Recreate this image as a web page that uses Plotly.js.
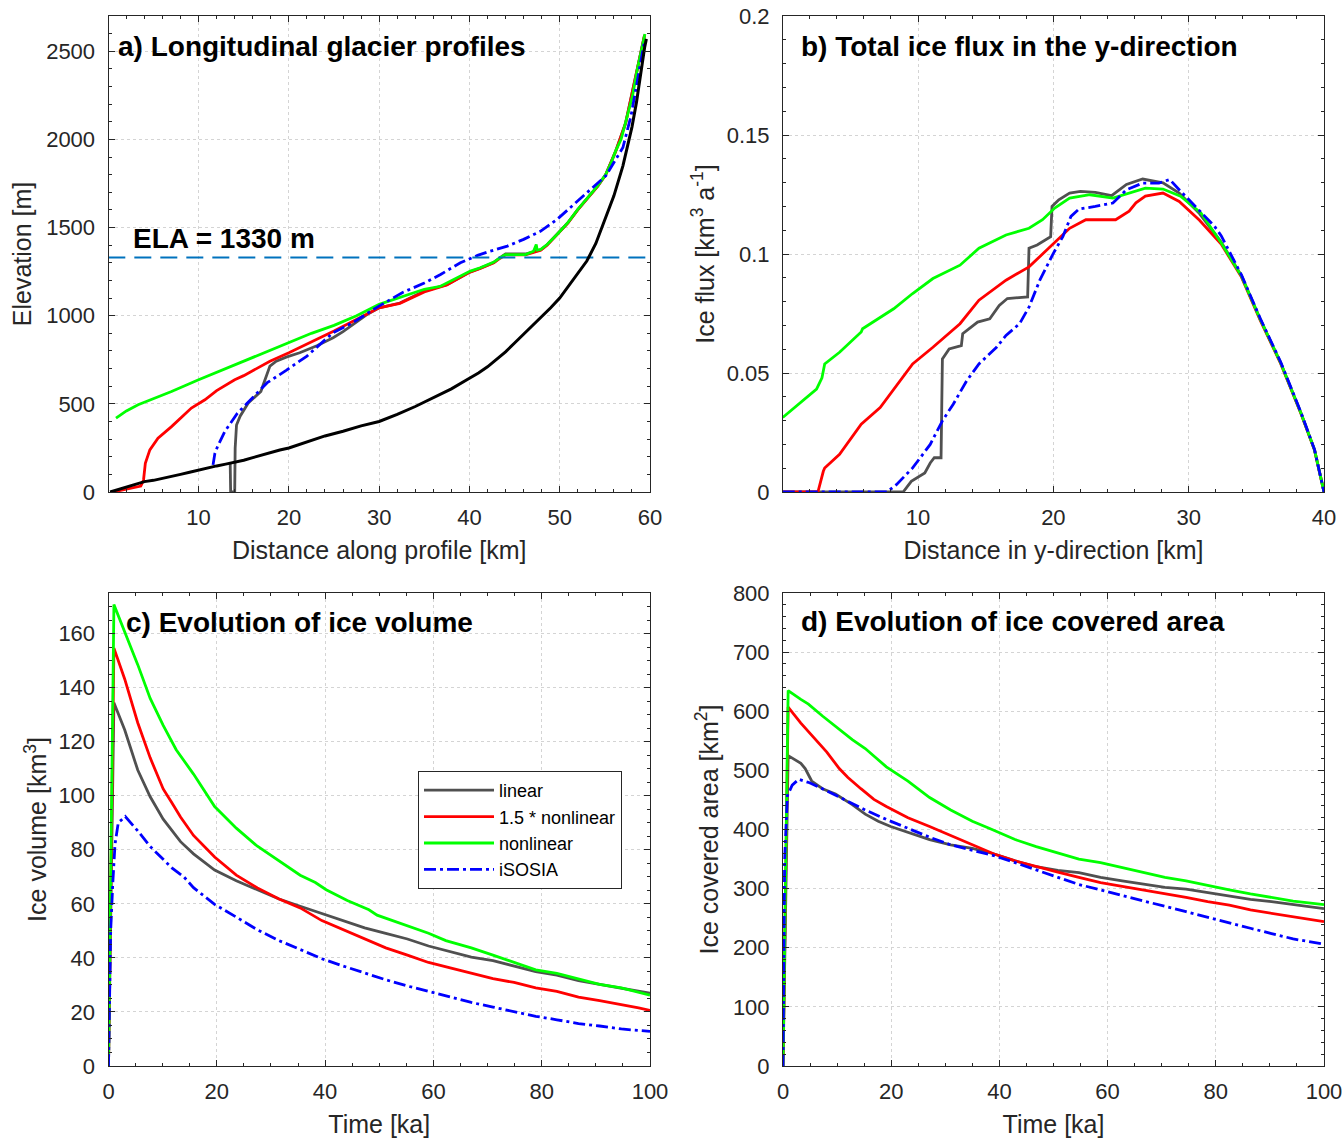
<!DOCTYPE html>
<html><head><meta charset="utf-8">
<script src="https://cdn.plot.ly/plotly-3.0.1.min.js"></script>
<style>html,body{margin:0;padding:0;background:#fff}#chart{width:1344px;height:1138px}</style>
</head><body><div id="chart"></div>
<script>
// ---------- Panel a: longitudinal profiles (km, m) ----------
const aBedX = [0.2,1,2,3,4,5,6,7,8,9,10,11,12,13,14,15,16,17,18,19,20,22,24,26,28,30,32,34,35,36,38,40,41,42,43,44,45,46,47,48,49,50,51,52,53,54,55,56,57,58,58.5,59,59.4,59.6];
const aBedY = [0,12,30,45,59,66,76,87,100,112,125,135,148,158,168,180,195,210,226,238,250,285,318,345,375,400,440,485,510,535,585,645,675,710,750,795,845,895,945,990,1045,1100,1170,1245,1310,1410,1540,1680,1850,2070,2210,2390,2520,2570];
const aLinX = [13.5,13.55,14.0,14.05,14.2,14.6,15.5,16.4,16.9,17.1,17.5,17.9,18.6,19.7,21.2,23.1,24.9,26,28.6,30,32.3,35,37.5,40,41.2,42.7,43.4,44,46.2,47.1,47.9,48.6,49.7,50.9,52,53.1,54.2,55.1,56.2,57.3,58.6,59.4];
const aLinY = [165,0,0,250,380,430,505,545,570,600,657,714,742,765,790,830,875,910,1005,1045,1072,1140,1176,1247,1270,1302,1330,1350,1350,1362,1374,1402,1460,1527,1602,1669,1735,1801,1934,2094,2398,2594];
const aNl15X = [0.7,1.8,3.6,3.9,4.1,4.6,5.5,7,9.2,10.7,12,14,15,17.9,20,23.1,25,28.6,30,32.3,35,37.5,40,41.2,42.7,43.4,44,46.2,47.1,47.9,48.6,49.7,50.9,52,53.1,54.2,55.1,56.2,57.3,58.6,59.4];
const aNl15Y = [2,15,34,68,163,239,305,371,476,523,575,637,660,742,790,866,913,1008,1045,1070,1135,1175,1246,1268,1300,1326,1345,1345,1360,1372,1400,1458,1525,1600,1668,1733,1800,1932,2092,2395,2590];
const aNlX = [0.85,2,3.3,5,7,10,12.5,15,17.5,20,22.5,25,27.5,30,32.5,35,36.8,38.3,40.1,41.2,42.7,43.4,44,46.2,47.1,47.4,47.5,47.9,48.6,49.7,50.9,52,53.1,54.2,55.1,55.7,56.2,56.8,57.3,58.07,58.6,59.44];
const aNlY = [419,460,495,530,570,637,690,742,795,847,900,945,1000,1064,1106,1150,1167,1205,1253,1272,1304,1329,1347,1347,1366,1404,1372,1376,1404,1461,1528,1603,1670,1736,1802,1869,1935,2001,2096,2248,2399,2598];
const aIsoX = [11.6,11.8,12.1,12.9,14.3,15.8,17.6,19.7,22,24.9,27.1,29.7,32.6,35,36.8,39,40.9,42.3,44.2,46,47.9,49.7,51.6,53.4,55.1,56,57,57.9,58.6,59.4];
const aIsoY = [154,218,258,343,447,525,620,690,771,904,961,1046,1132,1185,1234,1300,1342,1366,1395,1433,1480,1546,1632,1717,1793,1869,1954,2134,2324,2560];
const elaValue = [1330];
const elaRangeX = [0, 60];

// ---------- Panel b: ice flux in y-direction (km, km3/a) ----------
const bLinX = [0,8.9,9.5,10.5,10.9,11.2,11.7,11.8,12.3,13.2,13.3,14.4,15.3,16.0,16.6,18.1,18.2,18.8,19.8,19.9,20.4,21.2,22.0,23.1,24.3,25.4,26.6,28.1,29.3,30.8,32.4,33.9,35.3,36.8,38.3,39.3,40];
const bLinY = [0,0,0.0045,0.008,0.0122,0.0144,0.0144,0.0559,0.0601,0.0615,0.0665,0.0714,0.0728,0.0784,0.0813,0.082,0.1024,0.1038,0.1073,0.12,0.1228,0.1256,0.1263,0.1259,0.1245,0.1292,0.1315,0.1299,0.1256,0.117,0.105,0.0909,0.0725,0.0543,0.0332,0.0177,0];
const bNl15X = [0,2.6,3.0,3.1,4.2,5.8,7.2,9.6,11.1,13.1,14.5,16.5,18.2,19.5,20.7,21.2,22.4,24.6,25.6,26.1,26.8,28.1,29.3,30.8,32.4,33.9,35.3,36.8,38.3,39.3,40];
const bNl15Y = [0,0,0.0087,0.0101,0.0158,0.0285,0.0355,0.0538,0.0608,0.0707,0.0806,0.089,0.0946,0.1017,0.108,0.1108,0.1144,0.1144,0.118,0.1215,0.1243,0.1256,0.1221,0.1142,0.1042,0.0903,0.072,0.0539,0.0329,0.0176,0];
const bNlX = [0,2.5,2.9,3.1,4.2,5.8,5.9,8.2,9.6,11.1,13.1,14.5,16.5,18.2,19.2,20.1,21.2,22.7,24.4,25.6,26.8,28.1,29.4,30.9,32.4,33.9,35.3,36.8,38.3,39.3,40];
const bNlY = [0.0313,0.0432,0.048,0.0538,0.0587,0.0672,0.0686,0.077,0.0834,0.0897,0.0953,0.1024,0.108,0.1108,0.1144,0.1193,0.1235,0.1249,0.1235,0.1256,0.1277,0.1273,0.1243,0.1173,0.1047,0.0907,0.0724,0.0542,0.0331,0.0177,0];
const bIsoX = [0,7.7,8.4,9.6,10.9,11.8,12.6,13.6,14.5,15.8,16.5,17.5,18.2,19.0,20.0,20.7,21.3,21.9,23.1,24.4,25.4,26.6,27.8,28.6,29.3,30.6,31.9,32.4,33.9,35.3,36.8,38.3,39.3,40];
const bIsoY = [0,0,0.0031,0.0101,0.02,0.0299,0.0369,0.0468,0.0538,0.0608,0.0658,0.0707,0.0777,0.089,0.1003,0.1073,0.1158,0.1189,0.12,0.1214,0.127,0.1298,0.1298,0.1313,0.127,0.1194,0.1117,0.1077,0.0912,0.0728,0.0546,0.0334,0.0178,0];

// ---------- Panel c: ice volume (ka, km3) ----------
const cLinX = [0,0.5,1.0,3.0,5.4,7.7,10.1,13.3,15.7,19.6,23.6,27.5,31.5,35.4,39.4,43.3,47.3,51.2,55.2,59.1,63.1,67,71,74.9,78.9,82.8,86.8,90.7,94.7,98.7,100];
const cLinY = [0,70,134.4,124.3,109.5,99.6,91.3,83,78.5,72.5,68.5,65.2,61.8,59.1,56.5,53.8,51.1,49.1,47,44.4,42.3,40.3,39,37,34.9,33.6,31.6,30.2,28.9,27.6,26.9];
const cNl15X = [0,0.5,1.0,3.0,5.4,7.7,10.1,11.7,13.3,15.7,19.6,23.6,27.5,31.5,35.4,39.4,43.3,47.3,51.2,55.2,59.1,63.1,67,71,74.9,78.9,82.8,86.8,90.7,94.7,97.9,100];
const cNl15Y = [0,80,154.6,143.1,127,114,102.5,97.4,92.1,85.3,77.3,70.6,65.9,61.8,58.5,53.8,50.4,47,43.7,41,38.3,36.3,34.3,32.3,30.9,28.9,27.6,25.5,24.2,22.8,21.5,20.6];
const cNlX = [0,0.4,0.7,1.0,3.0,5.4,7.7,10.1,12.5,15.7,19.6,23.6,27.5,31.5,35.4,38.2,40.2,44.1,48.1,49.6,55.2,59.1,62.3,67,71,75,78.9,82.8,86.8,90.7,94.7,97.9,100];
const cNlY = [0,77,127,170.7,160.6,148.5,136,126,117,108,96,88,81.3,75.9,70.6,67.9,65.2,61.2,57.8,55.8,51.7,49.1,46.4,43.7,41,38.3,35.6,34.3,32.3,30.2,28.9,27.2,26.2];
const cIsoX = [0,0.4,0.8,1.2,1.8,3.1,5.4,7.7,11.7,13.9,15.7,19.6,23.6,27.5,31.5,35.4,39.4,43.3,47.3,51.2,55.2,59.1,63.1,67,71,74.9,78.9,82.8,86.8,90.7,94.7,100];
const cIsoY = [0,50,68,82,90,92.3,87,81.2,73.3,70,66,59.8,55.1,50.4,46.4,43,39.7,37,34.3,31.9,29.6,27.6,25.5,23.5,21.8,20.2,18.4,17.1,15.7,14.8,13.7,12.8];

// ---------- Panel d: ice covered area (ka, km2) ----------
const dLinX = [0,0.95,3.3,4.1,5.3,7.3,9.7,12.8,15.2,17.6,19.9,23.1,27.1,31,35,38.9,42.9,46.8,50.8,54.7,58.7,62.7,66.6,70.6,74.5,78.5,82.5,86.4,90.3,94.3,100];
const dLinY = [0,525,512,503,482,469,460,442,426,414,405,395,383,374,368,359,347,337,331,327,319,313,307,302,299,293,287,282,278,273,266];
const dNl15X = [0,0.95,3.3,5.7,8.1,10.4,12,14.4,16.8,19.1,23.1,27.1,31,35,38.9,42.9,46.8,50.8,54.7,58.7,62.7,66.6,70.6,74.5,78.5,82.5,86.4,90.3,94.3,100];
const dNl15Y = [0,607,580,555,531,503,488,469,451,439,420,405,390,374,359,347,337,328,319,310,304,298,291,285,278,272,264,258,252,244];
const dNlX = [0,0.95,3.3,4.7,7.3,11.2,12.8,15.2,19.1,23.1,27.1,31,35,38.1,39.7,42.9,46.8,49.2,54.7,58.7,61.9,66.6,70.6,74.5,78.5,82.5,86.4,90.3,94.3,100];
const dNlY = [0,635,620,612,592,564,552,537,506,482,454,433,414,402,396,383,371,365,350,344,337,328,319,313,305,298,291,285,279,273];
const dIsoX = [0,0.3,0.8,1.7,2.9,4.9,7.3,11.2,15.2,19.1,23.1,27.1,31,35,38.9,42.9,46.8,50.8,54.7,58.7,62.7,66.6,70.6,74.5,78.5,82.5,86.4,90.3,94.3,100];
const dIsoY = [0,347,457,475,485,479,469,451,433,417,402,387,374,365,356,344,331,319,307,298,288,279,270,261,252,242,233,224,215,206];

const seriesNames = ['linear', '1.5 * nonlinear', 'nonlinear', 'iSOSIA'];
const panelTitles = ['a) Longitudinal glacier profiles', 'b) Total ice flux in the y-direction', 'c) Evolution of ice volume', 'd) Evolution of ice covered area'];

// ---------- styling ----------
const FONT = 'Liberation Sans, Arial, Helvetica, sans-serif';
const COL = {lin:'#505050', nl15:'#ff0000', nl:'#00ff00', iso:'#0000ff', bed:'#000000', ela:'#0072bd'};
const LW = 2.8;
const ISO_DASH = '12px,4px,3px,4px';

function tr(x, y, color, ax, name, show, dash, width) {
  return {type:'scatter', mode:'lines', x:x, y:y, xaxis:'x'+ax, yaxis:'y'+ax,
    name:name, showlegend:!!show, hoverinfo:'skip',
    line:{color:color, width:width||LW, dash:dash||'solid'}};
}
const series = (ax, L, R, G, B, show) => [
  tr(L[0], L[1], COL.lin, ax, seriesNames[0], show),
  tr(R[0], R[1], COL.nl15, ax, seriesNames[1], show),
  tr(G[0], G[1], COL.nl, ax, seriesNames[2], show),
  tr(B[0], B[1], COL.iso, ax, seriesNames[3], show, ISO_DASH),
];

const data = [].concat(
  series('', [aLinX,aLinY], [aNl15X,aNl15Y], [aNlX,aNlY], [aIsoX,aIsoY], false),
  [tr(elaRangeX, [elaValue[0], elaValue[0]], COL.ela, '', 'ELA', false, '17px,9px', 2),
   tr(aBedX, aBedY, COL.bed, '', 'bed', false, 'solid', 3)],
  series('2', [bLinX,bLinY], [bNl15X,bNl15Y], [bNlX,bNlY], [bIsoX,bIsoY], false),
  series('3', [cLinX,cLinY], [cNl15X,cNl15Y], [cNlX,cNlY], [cIsoX,cIsoY], true),
  series('4', [dLinX,dLinY], [dNl15X,dNl15Y], [dNlX,dNlY], [dIsoX,dIsoY], false)
);

const W = 1344, H = 1138;
const px = (a, b) => [a / W, b / W];
const py = (top, bottom) => [1 - bottom / H, 1 - top / H];

function axis(o) {
  return Object.assign({
    showline:true, mirror:'allticks', linecolor:'#262626', linewidth:1,
    ticks:'inside', ticklen:6, tickwidth:1, tickcolor:'#262626',
    showgrid:true, gridcolor:'#d4d4d4', griddash:'dot', gridwidth:1,
    zeroline:false, fixedrange:true, automargin:false,
    tickfont:{family:FONT, size:22, color:'#262626'},
  }, o);
}
function ttl(text, standoff) {
  return {text:text, font:{family:FONT, size:25, color:'#262626'}, standoff:standoff};
}

const layout = {
  width:W, height:H, paper_bgcolor:'#fff', plot_bgcolor:'#fff',
  margin:{l:0, r:0, t:0, b:0},
  font:{family:FONT, color:'#262626'},
  xaxis: axis({domain:px(108.5,650), anchor:'y', range:[0.02,60], tick0:0, dtick:10,
    minor:{ticks:'inside', ticklen:3, tickcolor:'#262626', dtick:2, tick0:0, showgrid:false},
    title:ttl('Distance along profile [km]', 12), ticklabelstandoff:6}),
  yaxis: axis({domain:py(16,492), anchor:'x', range:[0,2700], tick0:0, dtick:500,
    minor:{ticks:'inside', ticklen:3, tickcolor:'#262626', dtick:100, tick0:0, showgrid:false},
    title:ttl('Elevation [m]', 7), ticklabelstandoff:8}),
  xaxis2: axis({domain:px(783,1324), anchor:'y2', range:[0.02,40], tick0:0, dtick:10,
    minor:{ticks:'inside', ticklen:3, tickcolor:'#262626', dtick:2, tick0:0, showgrid:false},
    title:ttl('Distance in y-direction [km]', 12), ticklabelstandoff:6}),
  yaxis2: axis({domain:py(16,492), anchor:'x2', range:[0,0.2], tick0:0, dtick:0.05,
    minor:{ticks:'inside', ticklen:3, tickcolor:'#262626', dtick:0.01, tick0:0, showgrid:false},
    title:ttl('Ice flux [km<sup>3</sup> a<sup>-1</sup>]', 5), ticklabelstandoff:8}),
  xaxis3: axis({domain:px(108.5,650), anchor:'y3', range:[0,100], tick0:0, dtick:20,
    minor:{ticks:'inside', ticklen:3, tickcolor:'#262626', dtick:5, tick0:0, showgrid:false},
    title:ttl('Time [ka]', 12), ticklabelstandoff:6}),
  yaxis3: axis({domain:py(593,1066), anchor:'x3', range:[0,175], tick0:0, dtick:20,
    minor:{ticks:'inside', ticklen:3, tickcolor:'#262626', dtick:5, tick0:0, showgrid:false},
    title:ttl('Ice volume [km<sup>3</sup>]', 4), ticklabelstandoff:8}),
  xaxis4: axis({domain:px(783,1324), anchor:'y4', range:[0,100], tick0:0, dtick:20,
    minor:{ticks:'inside', ticklen:3, tickcolor:'#262626', dtick:5, tick0:0, showgrid:false},
    title:ttl('Time [ka]', 12), ticklabelstandoff:6}),
  yaxis4: axis({domain:py(593,1066), anchor:'x4', range:[0,800], tick0:0, dtick:100,
    minor:{ticks:'inside', ticklen:3, tickcolor:'#262626', dtick:20, tick0:0, showgrid:false},
    title:ttl('Ice covered area [km<sup>2</sup>]', 7), ticklabelstandoff:8}),
  showlegend:true,
  legend:{x:418/W, y:1-771/H, xanchor:'left', yanchor:'top', bgcolor:'#ffffff',
    bordercolor:'#262626', borderwidth:1, itemwidth:70, tracegroupgap:0,
    font:{family:FONT, size:18, color:'#000'}},
  annotations:[
    {xref:'paper', yref:'paper', x:116/W, y:1-46.5/H, xanchor:'left', yanchor:'middle', showarrow:false,
      text:'<b>'+panelTitles[0]+'</b>', font:{family:FONT, size:28, color:'#000'}},
    {xref:'paper', yref:'paper', x:799/W, y:1-46.5/H, xanchor:'left', yanchor:'middle', showarrow:false,
      text:'<b>'+panelTitles[1]+'</b>', font:{family:FONT, size:28, color:'#000'}},
    {xref:'paper', yref:'paper', x:124/W, y:1-622/H, xanchor:'left', yanchor:'middle', showarrow:false,
      text:'<b>'+panelTitles[2]+'</b>', font:{family:FONT, size:28, color:'#000'}},
    {xref:'paper', yref:'paper', x:799/W, y:1-621/H, xanchor:'left', yanchor:'middle', showarrow:false,
      text:'<b>'+panelTitles[3]+'</b>', font:{family:FONT, size:28, color:'#000'}},
    {xref:'paper', yref:'paper', x:131/W, y:1-239/H, xanchor:'left', yanchor:'middle', showarrow:false,
      text:'<b>ELA = '+elaValue[0]+' m</b>', font:{family:FONT, size:28, color:'#000'}}
  ]
};

Plotly.newPlot('chart', data, layout, {displayModeBar:false, staticPlot:true});
</script></body></html>
